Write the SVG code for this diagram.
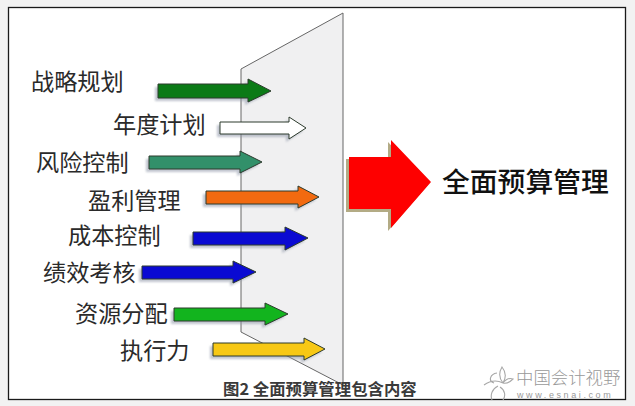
<svg xmlns="http://www.w3.org/2000/svg" width="635" height="406" viewBox="0 0 635 406">
<defs><filter id="b" x="-10%" y="-30%" width="120%" height="160%"><feGaussianBlur stdDeviation="1"/></filter></defs>
<style>
.l{font-family:"Noto Sans CJK SC","Noto Sans",sans-serif;font-size:23.2px;fill:#2a2a2a}
.a{stroke:#2c3a2c;stroke-width:1}
.s{fill:#8f97a8;opacity:.55;filter:url(#b)}
</style>
<rect width="635" height="406" fill="#f2f2f2"/>
<rect id="frame" x="8.5" y="7.5" width="617" height="392" fill="#fff" stroke="#1a1a1a" stroke-width="1.3"/>
<polygon id="panel" points="241,69 343,13 343,385 241,332" fill="#f0f0f1" stroke="#666" stroke-width="1"/>
<g id="connectors">
<g id="c1"><polygon class="s" points="155,87 245,87 245,82 268,94 245,105 245,101 155,101"/><polygon class="a" fill="#0b7a16" points="158,84 248,84 248,79 271,91 248,102 248,98 158,98"/></g>
<g id="c2"><polygon class="s" points="217,125 286,125 286,120 303,131 286,142 286,137 217,137"/><polygon class="a" fill="#fff" points="220,122 289,122 289,117 306,128 289,139 289,134 220,134"/></g>
<g id="c3"><polygon class="s" points="146,159 237,159 237,154 259,165 237,176 237,172 146,172"/><polygon class="a" fill="#32906a" points="149,156 240,156 240,151 262,162 240,173 240,169 149,169"/></g>
<g id="c4"><polygon class="s" points="203,194 295,194 295,189 316,200 295,211 295,207 203,207"/><polygon class="a" fill="#f26a10" points="206,191 298,191 298,186 319,197 298,208 298,204 206,204"/></g>
<g id="c5"><polygon class="s" points="190,235 282,235 282,230 305,241 282,253 282,248 190,248"/><polygon class="a" fill="#0a0ad2" points="193,232 285,232 285,227 308,238 285,250 285,245 193,245"/></g>
<g id="c6"><polygon class="s" points="139,269 230,269 230,264 253,275 230,286 230,282 139,282"/><polygon class="a" fill="#0a0ad2" points="142,266 233,266 233,261 256,272 233,283 233,279 142,279"/></g>
<g id="c7"><polygon class="s" points="171,311 262,311 262,306 285,317 262,328 262,324 171,324"/><polygon class="a" fill="#12b41e" points="174,308 265,308 265,303 288,314 265,325 265,321 174,321"/></g>
<g id="c8"><polygon class="s" points="210,346 301,346 301,341 322,352 301,363 301,359 210,359"/><polygon class="a" fill="#f7c815" points="213,343 304,343 304,338 325,349 304,360 304,356 213,356"/></g>
<g id="c-main"><polygon fill="#b3ab85" points="346,159 388,159 388,142 428,185 388,231 388,212 346,212"/><polygon fill="#fe0000" points="349,157 391,157 391,140 431,182 391,228 391,209 349,209"/></g>
</g>
<g id="n1"><text class="l" x="31" y="90">战略规划</text></g>
<g id="n2"><text class="l" x="113" y="133">年度计划</text></g>
<g id="n3"><text class="l" x="36" y="171">风险控制</text></g>
<g id="n4"><text class="l" x="88" y="209">盈利管理</text></g>
<g id="n5"><text class="l" x="68" y="244">成本控制</text></g>
<g id="n6"><text class="l" x="43" y="281">绩效考核</text></g>
<g id="n7"><text class="l" x="75" y="322">资源分配</text></g>
<g id="n8"><text class="l" x="120" y="359">执行力</text></g>
<g id="main"><text x="442" y="192" style="font-family:'Noto Sans CJK SC',sans-serif;font-size:27.8px;font-weight:500;fill:#111">全面预算管理</text></g>
<g id="caption"><text x="223" y="395" style="font-family:'Noto Sans CJK SC',sans-serif;font-size:16.4px;font-weight:700;fill:#3a3a3a">图2 全面预算管理包含内容</text></g>
<g id="watermark">
<path d="M484,385C491,380 497,380 503,383M503,383C499,378 499,372 502,367C506,372 506,378 503,383M503,383C506,379 510,378 513,379C510,382 507,384 503,383M494,383C488,381 490,374 497,373M498,386C492,389 490,395 492,400M500,387C505,390 506,396 503,400" fill="none" stroke="#a8a8a8" stroke-width="1.1"/>
<text x="516" y="384" style="font-family:'Noto Sans CJK SC',sans-serif;font-size:17.4px;font-weight:300;fill:#999">中国会计视野</text>
<text x="517" y="398" style="font-family:'Liberation Sans',sans-serif;font-size:9px;letter-spacing:2.6px;fill:#999">www.esnai.com</text>
</g>
</svg>
